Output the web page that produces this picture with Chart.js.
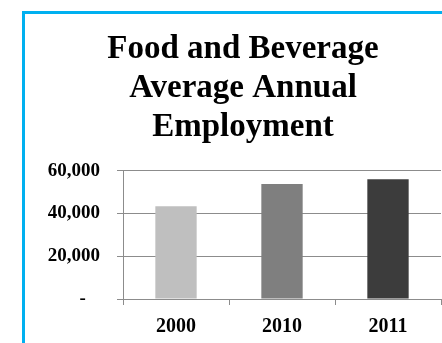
<!DOCTYPE html>
<html>
<head>
<meta charset="utf-8">
<script src="https://cdn.jsdelivr.net/npm/chart.js@4.4.1/dist/chart.umd.min.js"></script>
<style>
  html, body { margin: 0; padding: 0; background: #fff; overflow: hidden; }
  #frame {
    position: absolute; left: 22px; top: 11px; width: 420px; height: 332px;
    border-left: 3px solid #00B0F0; border-top: 3px solid #00B0F0;
  }
  #chart { position: absolute; left: 0; top: 0; }
</style>
</head>
<body>
<div id="frame"><canvas id="chart" width="417" height="329"></canvas></div>
<script>
// employment by year
const years = ['2000', '2010', '2011'];
const employment = [43400, 53800, 56000];
const barColors = ['#BFBFBF', '#7F7F7F', '#3C3C3C'];
const yTicks = [0, 20000, 40000, 60000];
const yTickLabels = ['-', '20,000', '40,000', '60,000'];
const titleLines = ['Food and Beverage', 'Average Annual', 'Employment'];

const serif = 'Liberation Serif, Times New Roman, serif';
const gridGrey = '#8C8C8C';

new Chart(document.getElementById('chart').getContext('2d'), {
    type: 'bar',
    data: {
        labels: years,
        datasets: [{
            data: employment,
            backgroundColor: barColors,
            borderWidth: 0,
            barPercentage: 0.39,
            categoryPercentage: 1
        }]
    },
    options: {
        responsive: false,
        animation: false,
        devicePixelRatio: 1,
        // left padding pushes the title centre right; the y axis keeps its width via afterFit
        layout: { padding: { left: 20, right: 1, bottom: 0 } },
        plugins: {
            legend: { display: false },
            tooltip: { enabled: false },
            title: {
                display: true,
                text: titleLines,
                color: '#000',
                font: { family: serif, size: 33, weight: 'bold', lineHeight: 1.18 },
                padding: { top: 16, bottom: 24 }
            }
        },
        scales: {
            x: {
                afterFit: scale => { scale.height = 44; },
                grid: { display: true, offset: true, drawOnChartArea: false, drawTicks: true, tickLength: 6, color: gridGrey },
                border: { color: gridGrey },
                ticks: { color: '#000', padding: 10, font: { family: serif, size: 20, weight: 'bold' } }
            },
            y: {
                min: yTicks[0],
                max: yTicks[yTicks.length - 1],
                afterFit: scale => { scale.width = 78; },
                afterBuildTicks: scale => { scale.ticks = yTicks.map(v => ({ value: v })); },
                grid: { color: gridGrey, tickLength: 6 },
                border: { color: gridGrey },
                ticks: {
                    color: '#000',
                    padding: 17,
                    font: { family: serif, size: 19, weight: 'bold' },
                    // zero shows as a dash set in from the right edge
                    callback: v => {
                        const label = yTickLabels[yTicks.indexOf(v)];
                        return v === 0 ? label + '\u00a0\u00a0\u00a0' : label;
                    }
                }
            }
        }
    }
});
</script>
</body>
</html>
